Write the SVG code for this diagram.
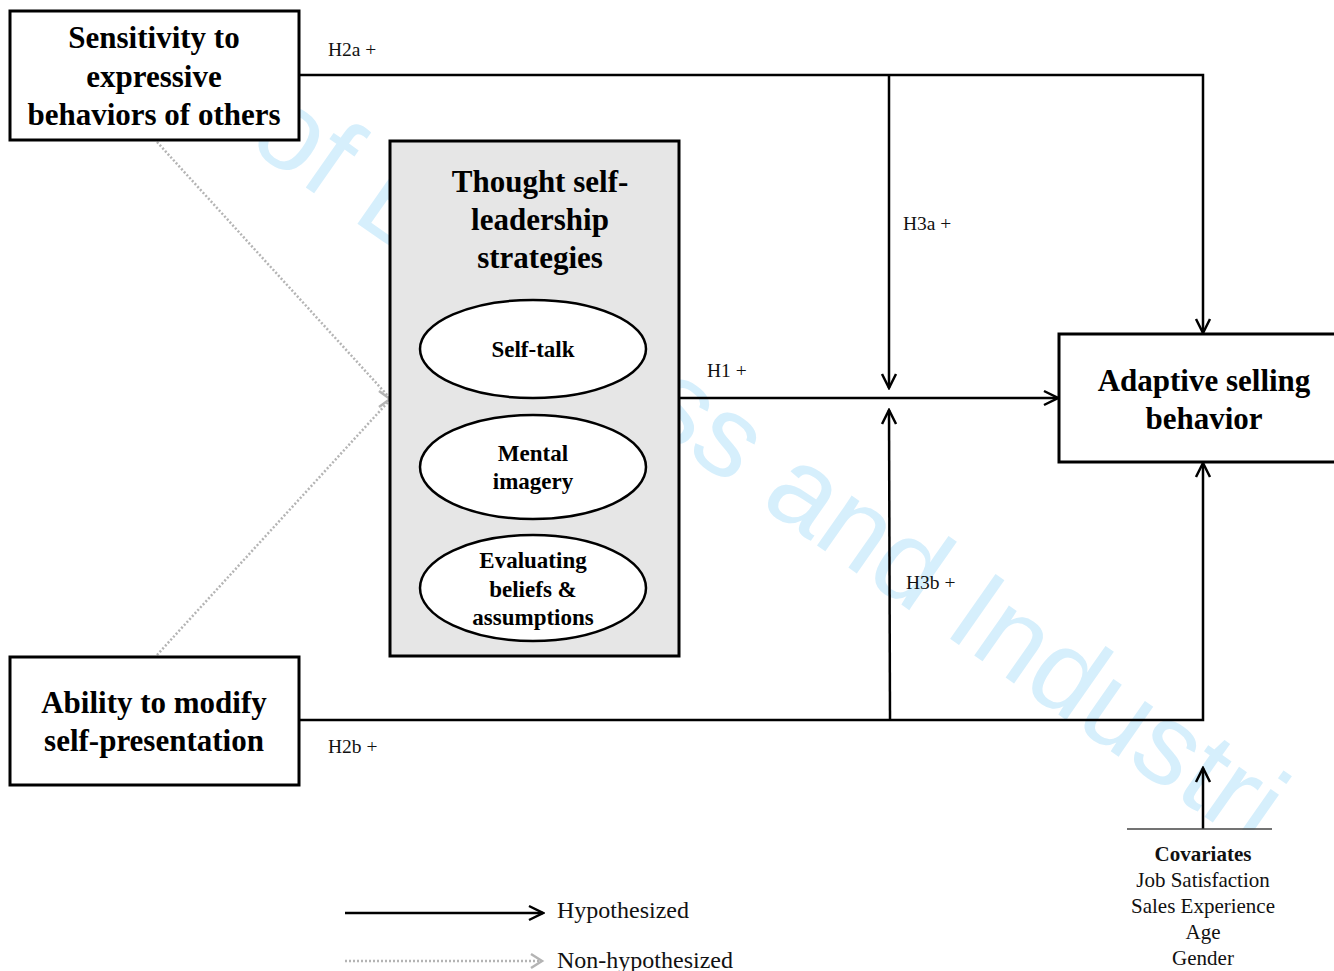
<svg xmlns="http://www.w3.org/2000/svg" width="1334" height="971" viewBox="0 0 1334 971">
<style>
.box{fill:#fff;stroke:#000;stroke-width:3}
.gbox{fill:#e6e6e6;stroke:#000;stroke-width:3}
.ell{fill:#fff;stroke:#000;stroke-width:2.5}
.big{font-family:"Liberation Serif","Times New Roman",serif;font-weight:bold;font-size:31px;fill:#000;text-anchor:middle}
.mid{font-family:"Liberation Serif","Times New Roman",serif;font-weight:bold;font-size:23px;fill:#000;text-anchor:middle}
.lbl{font-family:"Liberation Serif","Times New Roman",serif;font-size:19.5px;fill:#111}
.cov{font-family:"Liberation Serif","Times New Roman",serif;font-size:21px;fill:#111;text-anchor:middle}
.leg{font-family:"Liberation Serif","Times New Roman",serif;font-size:24px;fill:#111}
.ln{fill:none;stroke:#000;stroke-width:2.5}
.dot{fill:none;stroke:#b4b4b4;stroke-width:2.5;stroke-dasharray:2 2}
.wm{font-family:"Liberation Sans",Arial,sans-serif;font-size:115px;fill:#d6effc}
</style>
<defs>
<marker id="ah" viewBox="-16 -9 18 18" refX="0" refY="0" markerWidth="18" markerHeight="18" markerUnits="userSpaceOnUse" orient="auto">
<path d="M-14,-7 L0,0 L-14,7" fill="none" stroke="#000" stroke-width="2.5"/>
</marker>
<marker id="ahg" viewBox="-16 -9 18 18" refX="0" refY="0" markerWidth="18" markerHeight="18" markerUnits="userSpaceOnUse" orient="auto">
<path d="M-12,-7 L0,0 L-12,7" fill="none" stroke="#b4b4b4" stroke-width="2.5"/>
</marker>
</defs>
<rect width="1334" height="971" fill="#fff"/>
<text class="wm" transform="translate(245,145) rotate(35)">of Business and Industri</text>
<rect x="1100" y="830" width="234" height="141" fill="#fff"/>
<g id="connectors">
<path class="ln" d="M299,75 H1203 V333" marker-end="url(#ah)"/>
<path class="ln" d="M889,75 V388" marker-end="url(#ah)"/>
<path class="ln" d="M679,398 H1058" marker-end="url(#ah)"/>
<path class="ln" d="M890,720 L889,410" marker-end="url(#ah)"/>
<path class="ln" d="M299,720 H1203 V463" marker-end="url(#ah)"/>
<path class="ln" d="M1203,829 V768" marker-end="url(#ah)"/>
<path d="M1127,829 H1272" stroke="#444" stroke-width="1.5"/>
<path class="dot" d="M157,142 L389,397"/>
<path class="dot" d="M157,655 L389,401"/>
<path d="M379,391 L390,399 L379,407" fill="none" stroke="#b4b4b4" stroke-width="2.5"/>
<text class="lbl" x="328" y="56">H2a +</text>
<text class="lbl" x="903" y="230">H3a +</text>
<text class="lbl" x="707" y="377">H1 +</text>
<text class="lbl" x="906" y="589">H3b +</text>
<text class="lbl" x="328" y="753">H2b +</text>
</g>
<g id="sensitivity">
<rect class="box" x="10" y="11" width="289" height="129"/>
<text class="big" x="154" y="48">Sensitivity to</text>
<text class="big" x="154" y="87">expressive</text>
<text class="big" x="154" y="125">behaviors of others</text>
</g>
<g id="ability">
<rect class="box" x="10" y="657" width="289" height="128"/>
<text class="big" x="154" y="713">Ability to modify</text>
<text class="big" x="154" y="751">self-presentation</text>
</g>
<g id="thought">
<rect class="gbox" x="390" y="141" width="289" height="515"/>
<text class="big" x="540" y="192">Thought self-</text>
<text class="big" x="540" y="230">leadership</text>
<text class="big" x="540" y="268">strategies</text>
</g>
<g id="selftalk">
<ellipse class="ell" cx="533" cy="349" rx="113" ry="49"/>
<text class="mid" x="533" y="357">Self-talk</text>
</g>
<g id="mental">
<ellipse class="ell" cx="533" cy="467" rx="113" ry="52"/>
<text class="mid" x="533" y="461">Mental</text>
<text class="mid" x="533" y="489">imagery</text>
</g>
<g id="evaluating">
<ellipse class="ell" cx="533" cy="588" rx="113" ry="53"/>
<text class="mid" x="533" y="568">Evaluating</text>
<text class="mid" x="533" y="597">beliefs &amp;</text>
<text class="mid" x="533" y="625">assumptions</text>
</g>
<g id="adaptive">
<rect class="box" x="1059" y="334" width="285" height="128"/>
<text class="big" x="1204" y="391">Adaptive selling</text>
<text class="big" x="1204" y="429">behavior</text>
</g>
<g id="covariates">
<text class="cov" x="1203" y="861" font-weight="bold">Covariates</text>
<text class="cov" x="1203" y="887">Job Satisfaction</text>
<text class="cov" x="1203" y="913">Sales Experience</text>
<text class="cov" x="1203" y="939">Age</text>
<text class="cov" x="1203" y="965">Gender</text>
</g>
<g id="legend">
<path class="ln" d="M345,913 H543" marker-end="url(#ah)"/>
<text class="leg" x="557" y="918">Hypothesized</text>
<path class="dot" d="M345,961 H541"/>
<path d="M531,954 L542,961 L531,968" fill="none" stroke="#b4b4b4" stroke-width="2.5"/>
<text class="leg" x="557" y="968">Non-hypothesized</text>
</g>
</svg>
